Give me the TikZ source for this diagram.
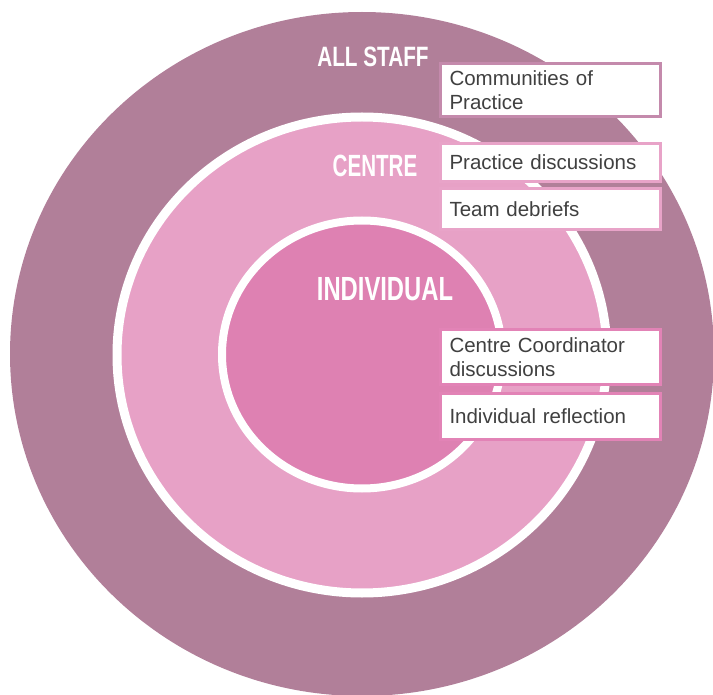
\documentclass[tikz,border=0pt]{standalone}
\usepackage{fontspec}
\setmainfont{Liberation Sans}
\definecolor{outerc}{RGB}{177,127,153}
\definecolor{midc}{RGB}{231,161,198}
\definecolor{innerc}{RGB}{222,129,178}
\definecolor{txtc}{RGB}{64,64,64}
\definecolor{bordA}{RGB}{196,138,172}
\definecolor{bordB}{RGB}{232,163,200}
\definecolor{bordC}{RGB}{226,131,182}
\tikzset{
  ring/.style={draw=white, line width=9pt},
  title/.style={text=white, inner sep=0pt, font=\bfseries},
  itembox/.style={draw=#1, fill=white, line width=3pt, anchor=north west,
    text width=202pt, inner xsep=9pt, inner ysep=0pt, align=left,
    text=txtc, font=\fontsize{20.5}{24.5}\selectfont},
}
\begin{document}
\begin{tikzpicture}[x=1pt,y=-1pt]
\useasboundingbox (0,0) rectangle (713,695);
\clip (0,0) rectangle (713,695);
\fill[outerc] (362,354) ellipse [x radius=352, y radius=342];
\filldraw[fill=midc, ring] (362,355) ellipse [x radius=245, y radius=238];
\filldraw[fill=innerc, ring, line width=8pt] (362,354.5) ellipse [x radius=140, y radius=134];
\node[title, xscale=0.74, font=\bfseries\fontsize{28}{28}\selectfont] (tall) at (373,57) {ALL STAFF};
\node[title, xscale=0.67, font=\bfseries\fontsize{30.7}{31}\selectfont] (tcentre) at (375,166) {CENTRE};
\node[title, xscale=0.71, font=\bfseries\fontsize{33.5}{34}\selectfont] (tind) at (385,289) {INDIVIDUAL};
\node[itembox=bordA, minimum height=53pt] (b1) at (439,62) {Communities of\\Practice};
\node[itembox=bordB, minimum height=38pt] (b2) at (439,142) {Practice discussions};
\node[itembox=bordB, minimum height=41pt] (b3) at (439,187) {Team debriefs};
\node[itembox=bordC, minimum height=55pt] (b4) at (439,328) {Centre Coordinator\\discussions};
\node[itembox=bordC, minimum height=46pt] (b5) at (439,392) {Individual reflection};
\end{tikzpicture}
\end{document}
